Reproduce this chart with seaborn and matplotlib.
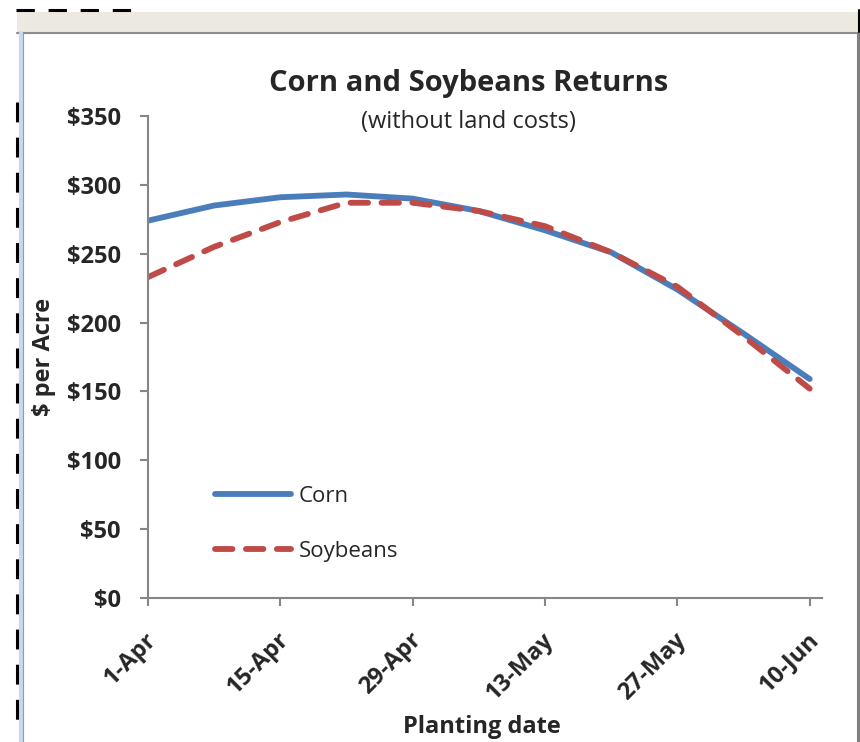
import pandas as pd
import seaborn as sns
import matplotlib.pyplot as plt
import matplotlib.dates as mdates
import matplotlib.transforms as mtransforms
from matplotlib.lines import Line2D
from matplotlib.patches import Rectangle
from matplotlib.ticker import FuncFormatter

# planting dates (weekly) and returns in $ per acre
planting_dates = ['2011-04-01', '2011-04-08', '2011-04-15', '2011-04-22', '2011-04-29', '2011-05-06',
                  '2011-05-13', '2011-05-20', '2011-05-27', '2011-06-03', '2011-06-10']
corn = [274, 285, 291, 293, 290, 281, 267, 251, 224, 192, 159]
soybeans = [233, 255, 273, 287, 287, 281, 270, 251, 226, 190, 152]

tick_dates = ['2011-04-01', '2011-04-15', '2011-04-29', '2011-05-13', '2011-05-27', '2011-06-10']
tick_labels = ['1-Apr', '15-Apr', '29-Apr', '13-May', '27-May', '10-Jun']
y_ticks = [0, 50, 100, 150, 200, 250, 300, 350]

if __name__ == '__main__':

    df = pd.DataFrame({
        'date': pd.to_datetime(planting_dates * 2),
        'value': corn + soybeans,
        'crop': ['Corn'] * len(corn) + ['Soybeans'] * len(soybeans),
    })

    sns.set_style('white')
    plt.rcParams['font.family'] = ['Open Sans', 'DejaVu Sans']

    W, H = 860, 742
    fig = plt.figure(figsize=(W / 100, H / 100), dpi=100, facecolor='white')

    def fx(px):
        return px / W

    def fy(py):
        return 1 - py / H

    # window frame bits from the screenshot
    fig.add_artist(Rectangle((fx(17), fy(32)), fx(843), 20 / H, transform=fig.transFigure,
                             facecolor='#ECE9E0', edgecolor='none'))
    fig.add_artist(Line2D([fx(17), fx(860)], [fy(33), fy(33)], transform=fig.transFigure,
                          color='#8C8C8C', lw=1.5))
    fig.add_artist(Line2D([fx(16), fx(140)], [fy(10), fy(10)], transform=fig.transFigure,
                          color='black', lw=2.2, dashes=(6, 4.5)))
    fig.add_artist(Line2D([fx(20.5), fx(20.5)], [fy(33), fy(742)], transform=fig.transFigure,
                          color='#C6D9F0', lw=3))
    fig.add_artist(Line2D([fx(23), fx(23)], [fy(33), fy(742)], transform=fig.transFigure,
                          color='#9A9A9A', lw=0.8))
    fig.add_artist(Line2D([fx(17), fx(17)], [fy(102), fy(722)], transform=fig.transFigure,
                          color='black', lw=2.2, dashes=(6.5, 5)))
    fig.add_artist(Line2D([fx(857.5), fx(857.5)], [fy(33), fy(742)], transform=fig.transFigure,
                          color='#808080', lw=2.2))
    fig.add_artist(Line2D([fx(859), fx(859)], [fy(10), fy(32)], transform=fig.transFigure,
                          color='black', lw=1.5))

    ax = fig.add_axes([fx(148), fy(598), fx(822 - 148), (598 - 116) / H])
    ax.set_facecolor('none')

    sns.lineplot(data=df, x='date', y='value', hue='crop', style='crop',
                 palette={'Corn': '#4A7EBB', 'Soybeans': '#BE4B48'},
                 dashes={'Corn': '', 'Soybeans': (3.0, 2.3)},
                 linewidth=4.2, solid_capstyle='round', dash_capstyle='round', ax=ax)

    ax.set_ylim(0, 350)
    ax.set_xlim(mdates.date2num(pd.Timestamp(tick_dates[0])),
                mdates.date2num(pd.Timestamp(tick_dates[-1])) + 1.3)
    ax.set_yticks(y_ticks)
    ax.yaxis.set_major_formatter(FuncFormatter(lambda v, _: f'${v:.0f}'))
    ax.set_xticks(pd.to_datetime(tick_dates))
    ax.set_xticklabels(tick_labels, rotation=45, ha='right', va='center', rotation_mode='anchor')

    for side in ['top', 'right']:
        ax.spines[side].set_visible(False)
    for side in ['left', 'bottom']:
        ax.spines[side].set_color('#868686')
        ax.spines[side].set_linewidth(1.5)
    ax.tick_params(axis='both', direction='out', color='#868686', width=1.5, length=5.5,
                   labelsize=17, left=True, bottom=True)
    ax.tick_params(axis='y', pad=14)
    ax.tick_params(axis='x', pad=22)
    shift = mtransforms.ScaledTranslation(5 / 100, 0, fig.dpi_scale_trans)
    for lab in ax.get_xticklabels():
        lab.set_transform(lab.get_transform() + shift)
    for lab in ax.get_xticklabels() + ax.get_yticklabels():
        lab.set_fontweight('bold')

    ax.set_xlabel('')
    ax.set_ylabel('')
    fig.text(fx(482), fy(727), 'Planting date', ha='center', va='center', fontsize=17, fontweight='bold')
    fig.text(fx(44), fy(357), '$ per Acre', ha='center', va='center', rotation=90,
             fontsize=17, fontweight='bold')
    fig.text(fx(469), fy(83), 'Corn and Soybeans Returns', ha='center', va='center',
             fontsize=21, fontweight='bold')
    fig.text(fx(468), fy(122), '(without land costs)', ha='center', va='center', fontsize=17)

    handles, labels = ax.get_legend_handles_labels()
    for h in handles:
        h.set_solid_capstyle('round')
        h.set_dash_capstyle('round')
    ax.legend(handles, labels, loc='upper left', bbox_to_anchor=((215 - 148) / (822 - 148), 0.232),
              frameon=False, fontsize=16, handlelength=3.4, handletextpad=0.35,
              labelspacing=1.5, borderpad=0, borderaxespad=0)

    fig.savefig('out.png', dpi=100)
